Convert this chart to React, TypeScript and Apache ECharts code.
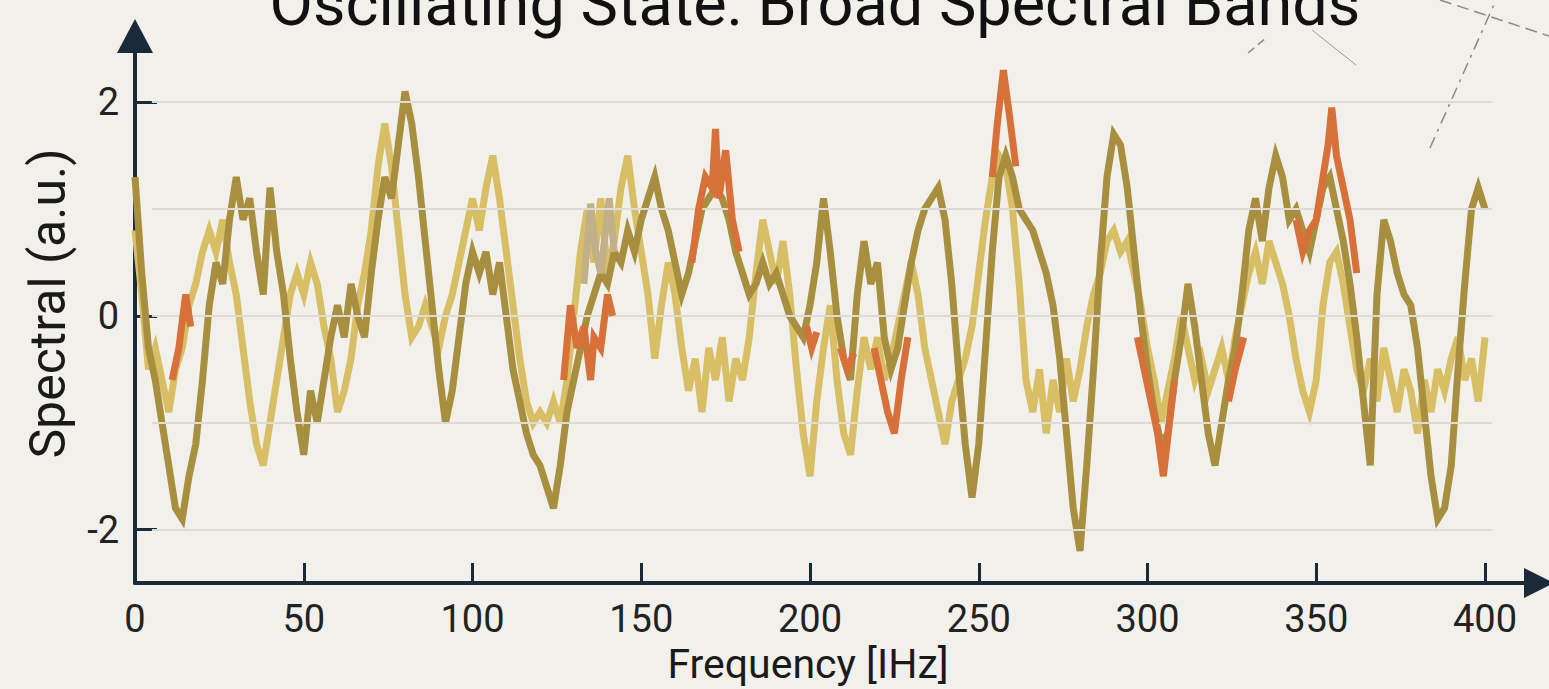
import React, { useEffect, useRef } from 'react';
import * as echarts from 'echarts';

// Frequency grid step (Hz) for the two main traces
const STEP = 2;

// Dark olive trace, values at 0, 2, 4, ... 400 Hz
const olive = [
  1.3, 0.4, -0.3, -0.6, -1.0, -1.4, -1.8, -1.9, -1.5, -1.2,
  -0.6, 0.1, 0.5, 0.3, 0.9, 1.3, 0.9, 1.1, 0.6, 0.2,
  1.2, 0.6, 0.2, -0.4, -0.9, -1.3, -0.7, -1.0, -0.6, -0.2,
  0.1, -0.2, 0.3, 0.0, -0.2, 0.4, 0.9, 1.3, 1.1, 1.6,
  2.1, 1.8, 1.3, 0.7, 0.1, -0.5, -1.0, -0.7, -0.2, 0.3,
  0.6, 0.4, 0.6, 0.2, 0.5, 0.0, -0.5, -0.8, -1.1, -1.3,
  -1.4, -1.6, -1.8, -1.4, -0.9, -0.6, -0.3, 0.0, 0.2, 0.4,
  0.3, 0.6, 0.5, 0.8, 0.6, 0.9, 1.1, 1.3, 1.0, 0.8,
  0.5, 0.2, 0.4, 0.7, 1.0, 1.1, 1.2, 1.1, 0.9, 0.6,
  0.4, 0.2, 0.3, 0.5, 0.3, 0.4, 0.2, 0.0, -0.1, -0.2,
  0.1, 0.5, 1.1, 0.6, 0.0, -0.4, -0.6, 0.2, 0.7, 0.3,
  0.5, -0.2, -0.5, -0.3, 0.1, 0.5, 0.8, 1.0, 1.1, 1.2,
  0.9, 0.3, -0.5, -1.2, -1.7, -1.2, -0.3, 0.6, 1.3, 1.5,
  1.3, 1.0, 0.9, 0.8, 0.6, 0.4, 0.1, -0.4, -1.1, -1.8,
  -2.2, -1.4, -0.5, 0.5, 1.3, 1.7, 1.6, 1.2, 0.6, 0.0,
  -0.5, -0.9, -1.2, -1.1, -0.6, -0.2, 0.3, -0.1, -0.6, -1.1,
  -1.4, -1.0, -0.6, -0.3, 0.2, 0.8, 1.1, 0.7, 1.2, 1.5,
  1.3, 0.9, 1.0, 0.8, 0.6, 0.9, 1.2, 1.3, 1.0, 0.7,
  0.3, -0.2, -0.8, -1.4, 0.2, 0.9, 0.7, 0.4, 0.2, 0.1,
  -0.3, -0.9, -1.5, -1.9, -1.8, -1.4, -0.5, 0.3, 1.0, 1.2,
  1.0,
];

// Light yellow trace, values at 0, 2, 4, ... 400 Hz
const yellow = [
  0.8, 0.2, -0.5, -0.3, -0.6, -0.9, -0.5, -0.3, 0.1, 0.3,
  0.6, 0.8, 0.6, 0.9, 0.5, 0.2, -0.3, -0.8, -1.2, -1.4,
  -1.0, -0.6, -0.2, 0.2, 0.4, 0.2, 0.5, 0.3, -0.1, -0.4,
  -0.9, -0.7, -0.4, 0.1, 0.4, 0.8, 1.4, 1.8, 1.4, 0.8,
  0.2, -0.2, -0.1, 0.1, -0.1, -0.3, 0.0, 0.2, 0.5, 0.8,
  1.1, 0.8, 1.2, 1.5, 1.1, 0.6, 0.1, -0.4, -0.8, -1.0,
  -0.9, -1.0, -0.8, -1.0, -0.6, 0.0, 0.6, 1.0, 0.5, 1.1,
  0.4, 0.7, 1.2, 1.5, 1.0, 0.6, 0.2, -0.4, 0.1, 0.5,
  0.2, -0.3, -0.7, -0.4, -0.9, -0.3, -0.6, -0.2, -0.8, -0.4,
  -0.6, -0.2, 0.4, 0.9, 0.6, 0.3, 0.7, 0.2, -0.5, -1.1,
  -1.5, -0.8, -0.3, 0.1, -0.6, -1.1, -1.3, -0.7, -0.2, -0.5,
  -0.2, -0.6, -0.4, -0.1, 0.2, 0.5, 0.2, -0.3, -0.6, -0.9,
  -1.2, -0.8, -0.6, -0.4, -0.1, 0.4, 0.9, 1.3, 1.5, 1.4,
  1.0, 0.3, -0.6, -0.9, -0.5, -1.1, -0.6, -0.9, -0.4, -0.8,
  -0.5, -0.1, 0.2, 0.4, 0.7, 0.8, 0.6, 0.7, 0.4, 0.1,
  -0.3, -0.6, -1.0, -0.7, -0.4, 0.0, -0.3, -0.6, -0.4, -0.7,
  -0.5, -0.3, -0.6, -0.2, 0.1, 0.4, 0.6, 0.3, 0.7, 0.5,
  0.3, 0.0, -0.4, -0.7, -0.9, -0.6, 0.1, 0.5, 0.6, 0.3,
  -0.1, -0.5, -0.7, -0.4, -0.8, -0.3, -0.6, -0.9, -0.5, -0.7,
  -1.1, -0.6, -0.9, -0.5, -0.7, -0.4, -0.2, -0.6, -0.4, -0.8,
  -0.2,
];

// Orange trace, visible only in stretches: [Hz, value]
const orangeSegments: number[][][] = [
  [[11, -0.6], [13, -0.3], [15, 0.2], [16.5, -0.1]],
  [[127, -0.6], [129, 0.1], [131, -0.3], [133, -0.1], [135, -0.6], [136, -0.2], [138, -0.3], [140, 0.2], [141.5, 0.0]],
  [[165, 0.5], [167, 1.0], [169, 1.3], [171, 1.2], [172, 1.75], [173, 1.1], [175, 1.55], [177, 0.9], [179, 0.6]],
  [[199, -0.1], [200.5, -0.3], [202, -0.15]],
  [[209, -0.3], [211, -0.5], [213, -0.35]],
  [[219, -0.3], [221, -0.6], [223, -0.9], [225, -1.1], [227, -0.6], [229, -0.2]],
  [[254, 1.3], [255.5, 1.8], [257.3, 2.3], [259, 1.9], [261, 1.4]],
  [[297, -0.2], [299, -0.5], [301, -0.8], [303, -1.1], [304.7, -1.5], [306.5, -1.0], [308, -0.6]],
  [[324, -0.8], [326, -0.5], [328.5, -0.2]],
  [[344, 0.9], [346, 0.6], [348, 0.8], [350, 0.9], [352, 1.3], [353.5, 1.6], [354.6, 1.95], [356, 1.5], [358, 1.2], [360, 0.9], [362, 0.4]],
];

// Greyish-tan stretch: [Hz, value]
const tanSegment = [[133, 0.3], [135, 1.05], [136.5, 0.6], [138, 0.4], [140.5, 1.1], [142, 0.6]];

const xTickValues = [0, 50, 100, 150, 200, 250, 300, 350, 400];
const yTickValues = [-2, 0, 2];
const gridValues = [-2, -1, 0, 1, 2];

const TITLE = 'Oscillating State: Broad Spectral Bands';
const X_NAME = 'Frequency [IHz]';
const Y_NAME = 'Spectral (a.u.)';

const AXIS_COLOR = '#1b2a38';
const FONT = 'Roboto, sans-serif';

export default function App() {
  const ref = useRef<HTMLDivElement>(null);

  useEffect(() => {
    const chart = echarts.init(ref.current!, null, { renderer: 'svg' });
    const freq = olive.map((_, i) => i * STEP);
    const pairs = (arr: number[]) => arr.map((v, i) => [freq[i], v]);

    const lineBase = (color: string, z: number) => ({
      type: 'line' as const,
      showSymbol: false,
      symbol: 'none',
      silent: true,
      z,
      lineStyle: { color, width: 7, join: 'miter' as const },
    });

    const option: any = {
      animation: false,
      backgroundColor: '#f1f0eb',
      grid: { left: 135, right: 10, top: 36, bottom: 102, containLabel: false },
      xAxis: {
        type: 'value',
        min: 0,
        max: 416,
        axisLine: {
          show: true,
          onZero: false,
          symbol: ['none', 'triangle'],
          symbolSize: [30, 30],
          lineStyle: { color: AXIS_COLOR, width: 4 },
        },
        axisTick: {
          show: true,
          inside: true,
          length: 20,
          customValues: xTickValues,
          lineStyle: { color: AXIS_COLOR, width: 3 },
        },
        axisLabel: {
          customValues: xTickValues,
          fontSize: 38,
          fontFamily: FONT,
          color: '#222',
          margin: 17,
        },
        splitLine: { show: false },
        name: X_NAME,
        nameLocation: 'middle',
        nameGap: 60,
        nameTextStyle: { fontSize: 41, fontFamily: FONT, color: '#1a1a1a', padding: [0, 58, 0, 0] },
      },
      yAxis: {
        type: 'value',
        min: -2.5,
        max: 2.62,
        axisLine: {
          show: true,
          onZero: false,
          symbol: ['none', 'triangle'],
          symbolSize: [36, 34],
          lineStyle: { color: AXIS_COLOR, width: 4 },
        },
        axisTick: {
          show: true,
          inside: true,
          length: 22,
          customValues: yTickValues,
          lineStyle: { color: AXIS_COLOR, width: 3 },
        },
        axisLabel: {
          customValues: yTickValues,
          fontSize: 38,
          fontFamily: FONT,
          color: '#222',
          margin: 16,
        },
        splitLine: { show: false },
        name: Y_NAME,
        nameLocation: 'middle',
        nameRotate: 90,
        nameGap: 62,
        nameTextStyle: { fontSize: 50, fontFamily: FONT, color: '#1a1a1a', padding: [0, 0, 0, 12] },
      },
      graphic: [
        {
          type: 'text',
          x: 815,
          y: -28,
          style: { text: TITLE, fontSize: 63, fontFamily: FONT, fill: '#111', align: 'center', verticalAlign: 'top' },
          z: 100,
        },
        { type: 'line', shape: { x1: 1248, y1: 53, x2: 1266, y2: 38 }, style: { stroke: '#8a8a8a', lineWidth: 1.5, lineDash: [8, 5] } },
        { type: 'line', shape: { x1: 1312, y1: 30, x2: 1356, y2: 65 }, style: { stroke: '#9a9a9a', lineWidth: 1 } },
        { type: 'line', shape: { x1: 1430, y1: 148, x2: 1496, y2: 0 }, style: { stroke: '#8a8a8a', lineWidth: 1.5, lineDash: [12, 6, 3, 6] } },
        { type: 'line', shape: { x1: 1440, y1: 0, x2: 1549, y2: 36 }, style: { stroke: '#8a8a8a', lineWidth: 1.5, lineDash: [12, 6] } },
      ],
      series: [
        {
          type: 'line',
          data: [],
          silent: true,
          z: 1,
          markLine: {
            silent: true,
            symbol: ['none', 'none'],
            label: { show: false },
            lineStyle: { color: '#dcdbd5', width: 2, type: 'solid' },
            data: gridValues.map((v) => [{ coord: [5, v] }, { coord: [402, v] }]),
          },
        },
        { ...lineBase('#d8be65', 2), data: pairs(yellow) },
        { ...lineBase('#a88f3f', 3), data: pairs(olive) },
        { ...lineBase('#c1b08a', 4), data: tanSegment },
        ...orangeSegments.map((seg) => ({ ...lineBase('#d8703a', 5), data: seg })),
      ],
    };

    chart.setOption(option);
    return () => chart.dispose();
  }, []);

  return <div ref={ref} style={{ position: 'fixed', left: 0, top: 0, width: 1549, height: 689 }} />;
}
